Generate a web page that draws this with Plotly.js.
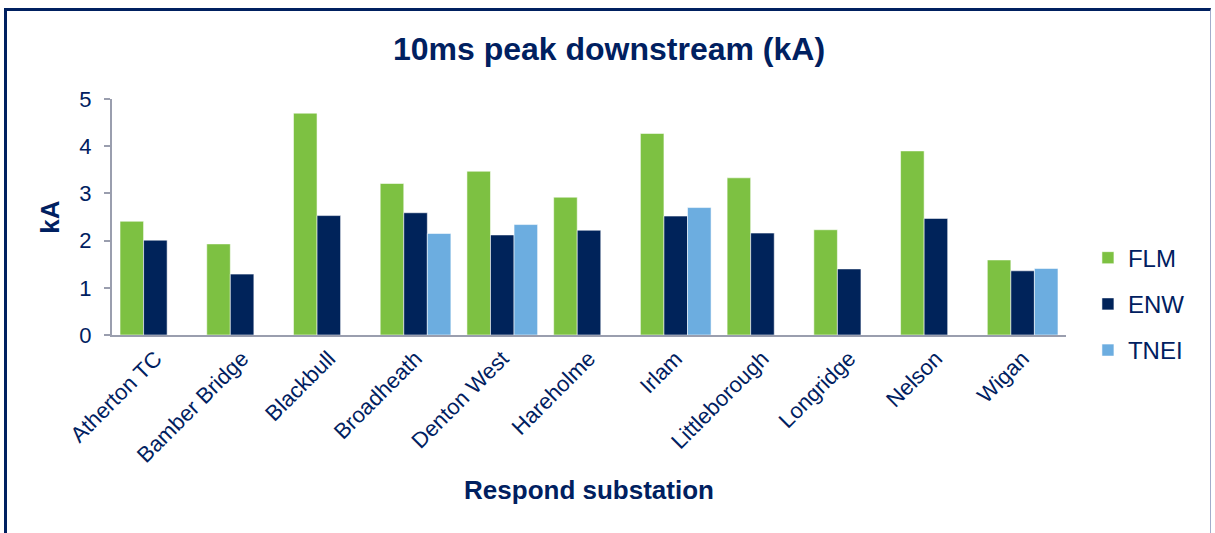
<!DOCTYPE html>
<html>
<head>
<meta charset="utf-8">
<script src="https://cdn.plot.ly/plotly-3.0.1.min.js"></script>
<style>
  html, body { margin: 0; padding: 0; background: #ffffff; }
  #wrap { position: relative; width: 1215px; height: 533px; overflow: hidden; }
  #chart { position: absolute; left: 0; top: 0; width: 1215px; height: 533px; }
  /* chart-area frame: heavy navy top/left edges, light right edge, open at the bottom */
  #frame {
    position: absolute; left: 4px; top: 8px; width: 1207px; height: 600px;
    border-top: 3px solid #002060; border-left: 3px solid #002060;
    border-right: 1px solid #a3accb; pointer-events: none; box-sizing: border-box;
  }
</style>
</head>
<body>
<div id="wrap">
  <div id="chart"></div>
  <div id="frame"></div>
</div>
<script>
// Respond substations along the category axis
const substations = ['Atherton TC', 'Bamber Bridge', 'Blackbull', 'Broadheath', 'Denton West',
  'Hareholme', 'Irlam', 'Littleborough', 'Longridge', 'Nelson', 'Wigan'];

// 10 ms peak downstream fault current (kA) per study
const flm  = [2.41, 1.93, 4.70, 3.21, 3.47, 2.92, 4.27, 3.33, 2.23, 3.90, 1.59];
const enw  = [2.01, 1.29, 2.53, 2.59, 2.12, 2.22, 2.52, 2.16, 1.40, 2.47, 1.36];
const tnei = [null, null, null, 2.15, 2.34, null, 2.70, null, null, null, 1.41];

const seriesNames = ['FLM', 'ENW', 'TNEI'];
const seriesColors = ['#7dc142', '#00235a', '#6cade0'];

const navy = '#002060';
const font = 'Liberation Sans, Arial, sans-serif';

const traces = [flm, enw, tnei].map((vals, i) => ({
  type: 'bar',
  name: seriesNames[i],
  legendgroup: seriesNames[i],
  x: substations,
  y: vals,
  marker: { color: seriesColors[i], line: { color: 'rgba(255,255,255,0.55)', width: 1 } },
  hoverinfo: 'x+y+name'
}));

const layout = {
  width: 1215,
  height: 533,
  margin: { l: 112, r: 149, t: 99, b: 198, autoexpand: false },
  paper_bgcolor: '#ffffff',
  plot_bgcolor: '#ffffff',
  barmode: 'group',
  bargap: 0.185,
  bargroupgap: 0,
  font: { family: font, color: navy },
  title: {
    text: '<b>10ms peak downstream (kA)</b>',
    font: { family: font, size: 32, color: navy },
    x: 609 / 1215, xref: 'container', xanchor: 'center',
    y: 1 - 49 / 533, yref: 'container', yanchor: 'middle'
  },
  xaxis: {
    type: 'category',
    tickangle: -45,
    tickfont: { family: font, size: 22, color: navy },
    showline: true, linecolor: '#9a9eae', linewidth: 2,
    ticks: '', showgrid: false, zeroline: false,
    automargin: false,
    title: { text: '<b>Respond substation</b>', font: { family: font, size: 26, color: navy }, standoff: 14 }
  },
  yaxis: {
    range: [0, 5],
    dtick: 1,
    tickfont: { family: font, size: 22, color: navy },
    showline: true, linecolor: '#9a9eae', linewidth: 2,
    ticks: 'outside', ticklen: 6, tickwidth: 2, tickcolor: '#9a9eae',
    ticklabelstandoff: 8,
    showgrid: false, zeroline: false,
    automargin: false,
    title: { text: '<b>kA</b>', font: { family: font, size: 26, color: navy }, standoff: 12 }
  },
  legend: {
    x: 1.023, xanchor: 'left',
    y: 0.131, yanchor: 'middle',
    font: { family: font, size: 24, color: navy },
    itemwidth: 30,
    traceorder: 'grouped',
    tracegroupgap: 12,
    bgcolor: 'rgba(0,0,0,0)'
  },
  showlegend: true
};

Plotly.newPlot('chart', traces, layout, { displayModeBar: false, staticPlot: true });
</script>
</body>
</html>
